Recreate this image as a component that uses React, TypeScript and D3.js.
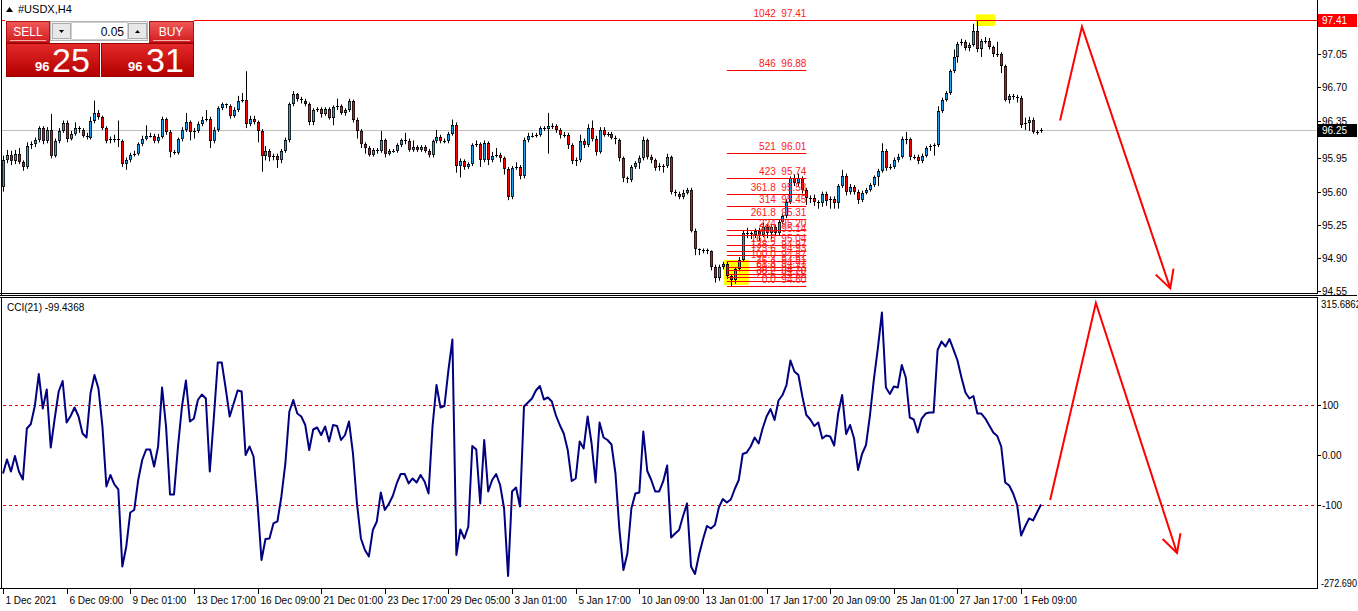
import * as d3 from "d3";

const W = 1358;
const H = 611;
const FONT = "'Liberation Sans', Arial, sans-serif";

// H4 candles, open = previous close
const firstOpen = 95.65;
const closes = [
  95.93, 95.99, 95.92, 96.0, 95.91, 95.86, 96.08, 96.1, 96.14, 96.27,
  96.13, 96.25, 95.98, 96.13, 96.24, 96.32, 96.16, 96.21, 96.27, 96.25,
  96.19, 96.17, 96.35, 96.43, 96.39, 96.27, 96.13, 96.16, 96.15, 96.13,
  95.89, 95.93, 95.99, 96.0, 96.1, 96.16, 96.19, 96.19, 96.13, 96.18,
  96.37, 96.23, 96.02, 96.01, 96.15, 96.25, 96.33, 96.23, 96.24, 96.31,
  96.36, 96.37, 96.13, 96.25, 96.48, 96.52, 96.5, 96.4, 96.46, 96.56,
  96.57, 96.31, 96.37, 96.33, 96.24, 95.98, 96.03, 95.96, 95.98, 95.93,
  96.03, 96.14, 96.52, 96.63, 96.58, 96.56, 96.52, 96.33, 96.46, 96.47,
  96.42, 96.47, 96.38, 96.49, 96.5, 96.43, 96.46, 96.56, 96.36, 96.24,
  96.1, 96.06, 95.99, 96.04, 96.03, 96.14, 96.0, 96.03, 96.03, 96.09,
  96.14, 96.13, 96.04, 96.07, 96.04, 96.07, 96.03, 95.99, 96.13, 96.18,
  96.13, 96.13, 96.21, 96.3, 95.87, 95.92, 95.86, 95.89, 96.09, 96.1,
  95.93, 96.11, 95.93, 95.98, 95.99, 95.95, 95.84, 95.54, 95.85, 95.86,
  95.76, 96.14, 96.19, 96.19, 96.2, 96.27, 96.26, 96.29, 96.29, 96.25,
  96.2, 96.2, 96.09, 95.92, 95.93, 96.13, 96.09, 96.27, 96.16, 96.02,
  96.25, 96.2, 96.21, 96.17, 96.14, 95.95, 95.74, 95.72, 95.86, 95.9,
  95.95, 96.14, 95.97, 95.93, 95.85, 95.87, 95.87, 95.96, 95.6, 95.58,
  95.54, 95.59, 95.62, 95.19, 94.99, 94.98, 94.98, 94.97, 94.81, 94.69,
  94.81, 94.84, 94.71, 94.67, 94.78, 94.88, 95.16, 95.16, 95.14, 95.19,
  95.14, 95.23, 95.16, 95.23, 95.16, 95.28, 95.34, 95.49, 95.74, 95.69,
  95.74, 95.62, 95.53, 95.53, 95.49, 95.48, 95.58, 95.5, 95.52, 95.48,
  95.66, 95.77, 95.6, 95.65, 95.6, 95.51, 95.59, 95.62, 95.67, 95.75,
  95.82, 96.03, 95.85, 95.86, 95.93, 95.97, 96.15, 96.15, 95.96, 95.97,
  95.92, 95.98, 96.06, 96.08, 96.09, 96.45, 96.57, 96.64, 96.87, 97.02,
  97.16, 97.18, 97.11, 97.15, 97.29, 97.1, 97.19, 97.19, 97.12, 97.05,
  97.05, 96.92, 96.57, 96.61, 96.6, 96.59, 96.3, 96.32, 96.36, 96.23,
  96.23, 96.25,
];
const highs = [
  95.98, 96.04, 96.03, 96.04, 96.06, 95.93, 96.12, 96.13, 96.17, 96.29,
  96.29, 96.28, 96.42, 96.16, 96.27, 96.35, 96.35, 96.24, 96.33, 96.29,
  96.27, 96.22, 96.39, 96.56, 96.46, 96.4, 96.29, 96.18, 96.2, 96.35,
  96.15, 95.96, 96.01, 96.03, 96.12, 96.19, 96.3, 96.22, 96.21, 96.21,
  96.39, 96.38, 96.25, 96.04, 96.17, 96.28, 96.43, 96.35, 96.27, 96.34,
  96.39, 96.46, 96.39, 96.28, 96.5, 96.54, 96.53, 96.52, 96.49, 96.61,
  96.64, 96.87, 96.4, 96.4, 96.35, 96.26, 96.08, 96.05, 96.0, 96.0,
  96.05, 96.17, 96.54, 96.66, 96.64, 96.6, 96.58, 96.54, 96.48, 96.49,
  96.49, 96.49, 96.49, 96.51, 96.58, 96.52, 96.48, 96.58, 96.57, 96.38,
  96.26, 96.12, 96.08, 96.06, 96.06, 96.24, 96.16, 96.05, 96.05, 96.11,
  96.16, 96.22, 96.16, 96.14, 96.09, 96.09, 96.09, 96.05, 96.15, 96.25,
  96.2, 96.16, 96.23, 96.36, 96.33, 95.95, 95.94, 95.91, 96.11, 96.14,
  96.12, 96.14, 96.13, 96.02, 96.06, 96.01, 95.97, 95.86, 95.87, 95.91,
  95.88, 96.17, 96.22, 96.22, 96.22, 96.29, 96.29, 96.43, 96.32, 96.31,
  96.27, 96.23, 96.22, 96.11, 95.96, 96.2, 96.16, 96.31, 96.35, 96.19,
  96.28, 96.28, 96.23, 96.23, 96.19, 96.16, 95.97, 95.76, 95.88, 95.92,
  95.98, 96.18, 96.16, 95.99, 95.95, 95.9, 95.89, 96.0, 95.98, 95.62,
  95.6, 95.62, 95.64, 95.64, 95.21, 95.0, 95.0, 95.0, 94.98, 94.83,
  94.83, 94.86, 94.86, 94.73, 94.8, 94.91, 95.19, 95.22, 95.18, 95.21,
  95.22, 95.27, 95.26, 95.26, 95.25, 95.31, 95.37, 95.52, 95.76, 95.78,
  95.79, 95.76, 95.64, 95.56, 95.57, 95.51, 95.6, 95.6, 95.55, 95.55,
  95.68, 95.83, 95.79, 95.68, 95.67, 95.62, 95.61, 95.64, 95.69, 95.77,
  95.84, 96.11, 96.05, 95.89, 95.96, 96.0, 96.18, 96.23, 96.17, 95.99,
  95.99, 96.0, 96.08, 96.1, 96.11, 96.5, 96.59, 96.66, 96.89, 97.1,
  97.18, 97.21, 97.2, 97.17, 97.37, 97.41, 97.21, 97.23, 97.22, 97.14,
  97.18, 97.07, 96.94, 96.63, 96.63, 96.62, 96.61, 96.38, 96.39, 96.38,
  96.25, 96.27,
];
const lows = [
  95.6, 95.9, 95.88, 95.89, 95.89, 95.82, 95.84, 96.05, 96.07, 96.12,
  96.1, 96.11, 95.95, 95.96, 96.11, 96.22, 96.12, 96.14, 96.19, 96.22,
  96.17, 96.15, 96.15, 96.32, 96.36, 96.25, 96.11, 96.11, 96.12, 96.07,
  95.86, 95.83, 95.91, 95.97, 95.98, 96.08, 96.14, 96.17, 96.11, 96.11,
  96.16, 96.2, 95.96, 95.99, 95.99, 96.13, 96.23, 96.14, 96.16, 96.22,
  96.29, 96.34, 96.06, 96.11, 96.23, 96.46, 96.48, 96.37, 96.38, 96.44,
  96.54, 96.27, 96.29, 96.31, 96.12, 95.81, 95.93, 95.92, 95.93, 95.85,
  95.9, 96.01, 96.12, 96.5, 96.55, 96.53, 96.5, 96.3, 96.3, 96.44,
  96.38, 96.4, 96.36, 96.3, 96.46, 96.41, 96.4, 96.44, 96.33, 96.16,
  96.06, 96.0, 95.97, 95.97, 96.0, 96.01, 95.96, 95.98, 96.01, 96.01,
  96.07, 96.1, 96.02, 96.02, 96.02, 96.02, 96.01, 95.96, 95.96, 96.11,
  96.11, 96.11, 96.11, 96.19, 95.8, 95.75, 95.83, 95.84, 95.87, 96.07,
  95.86, 95.91, 95.88, 95.91, 95.96, 95.91, 95.78, 95.51, 95.52, 95.83,
  95.73, 95.74, 96.12, 96.17, 96.17, 96.18, 96.24, 96.0, 96.26, 96.22,
  96.16, 96.17, 96.05, 95.89, 95.87, 95.91, 96.06, 96.07, 96.13, 95.98,
  96.0, 96.18, 96.18, 96.15, 96.1, 95.92, 95.7, 95.69, 95.7, 95.84,
  95.84, 95.93, 95.94, 95.9, 95.82, 95.82, 95.8, 95.85, 95.57, 95.55,
  95.52, 95.52, 95.57, 95.17, 94.93, 94.93, 94.95, 94.94, 94.77, 94.64,
  94.66, 94.78, 94.68, 94.6, 94.63, 94.76, 94.86, 95.11, 95.1, 95.11,
  95.08, 95.12, 95.11, 95.1, 95.13, 95.14, 95.26, 95.32, 95.47, 95.66,
  95.66, 95.58, 95.46, 95.48, 95.45, 95.42, 95.44, 95.45, 95.42, 95.42,
  95.42, 95.64, 95.56, 95.57, 95.57, 95.47, 95.49, 95.57, 95.6, 95.65,
  95.66, 95.8, 95.82, 95.83, 95.84, 95.91, 95.95, 96.1, 95.93, 95.94,
  95.89, 95.9, 95.96, 96.03, 95.98, 96.07, 96.43, 96.55, 96.62, 96.85,
  96.96, 97.14, 97.09, 97.08, 97.13, 97.07, 97.02, 97.16, 97.1, 97.02,
  97.02, 96.85, 96.55, 96.53, 96.57, 96.54, 96.27, 96.25, 96.24, 96.21,
  96.2, 96.22,
];

// CCI(21)
const cci = [
  -37, -9, -33, -2, -33, -49, 53, 62, 98, 162,
  93, 131, 15, 73, 127, 148, 65, 78, 95, 77,
  43, 35, 123, 160, 133, 57, -63, -40, -59, -69,
  -223, -183, -115, -110, -50, -10, 11, 11, -23, 17,
  135, 57, -79, -79, 17, 97, 149, 67, 73, 110,
  121, 113, -33, 73, 185, 185, 133, 77, 103, 129,
  127, 0, 17, -3, -97, -210, -168, -167, -137, -133,
  -83, -17, 87, 110, 83, 77, 60, 10, 51, 55,
  40, 57, 27, 60, 58, 30, 40, 67, 3, -97,
  -167, -190, -203, -150, -133, -75, -110, -98, -82, -57,
  -38, -38, -57, -47, -55, -40, -53, -77, 57, 140,
  95, 98, 170, 231, -200, -149, -167, -143, 18, 11,
  -97, 30, -73, -50, -38, -60, -107, -242, -73, -65,
  -103, 97,
  105, 113, 129, 138, 111, 115, 107, 80, 60, 43,
  10, -52, -47, 27, 13, 77, 23, -55, 65, 35,
  30, 21, -37, -150, -230, -197, -107, -77, -75, 47,
  -32, -50, -73, -73, -53, -21, -165, -157, -150, -122,
  -97, -223, -238, -200, -169, -142, -147, -140, -105, -88,
  -95, -89, -68, -50, 2, 5, 17, 35, 23, 53,
  77, 92, 70, 109, 120, 140, 189, 167, 160, 117,
  80, 71, 58, 65, 33, 39, 37, 19, 83, 120,
  42, 60, 33, -30, 2, 20, 80, 153, 215, 285,
  135, 122, 137, 135, 180, 155, 75, 71, 45, 73,
  83, 85, 85, 210, 227, 217, 232, 211, 189, 155,
  125, 113, 118, 83, 83, 73, 59, 45, 38, 17,
  -55, -61, -77, -100, -161, -143, -127, -131, -115, -99,
];
const cciLast = "-99.4368";
const cciMax = 315.6862;
const cciMin = -272.69;
const cciLevels = [100, -100];
const cciTicks = ["100", "0.00", "-100"];
const cciTickValues = [100, 0, -100];

const dateLabels = [
  "1 Dec 2021", "6 Dec 09:00", "9 Dec 01:00", "13 Dec 17:00", "16 Dec 09:00",
  "21 Dec 01:00", "23 Dec 17:00", "29 Dec 05:00", "3 Jan 01:00", "5 Jan 17:00",
  "10 Jan 09:00", "13 Jan 01:00", "17 Jan 17:00", "20 Jan 09:00", "25 Jan 01:00",
  "27 Jan 17:00", "1 Feb 09:00",
];
const priceTicks = ["97.05", "96.70", "96.35", "95.95", "95.60", "95.25", "94.90", "94.55"];

const fibLevels = ["0.0", "23.6", "38.2", "50.0", "61.8", "76.4", "100.0", "123.6", "138.2", "161.8", "200", "224", "261.8", "314", "361.8", "423", "521", "846"];
const fibPrices = ["94.60", "94.66", "94.70", "94.73", "94.77", "94.81", "94.87", "94.93", "94.97", "95.04", "95.14", "95.20", "95.31", "95.45", "95.58", "95.74", "96.01", "96.88"];
const topLevel = "1042";
const topPrice = "97.41";
const fibStartBar = 182;
const fibEndBar = 202;

const bid = "96.25";
const sellBig = "25";
const buyBig = "31";
const priceHead = "96";
const lot = "0.05";

// hand-drawn arrows: [bar index, value]
const upperArrow: [number, number][] = [[265.8, 96.35], [271.3, 97.34], [293.5, 94.58]];
const lowerArrow: [number, number][] = [[263.3, -90], [274.8, 304], [295.2, -196]];

const PLOT_R = 1317;

function arrowHead(a: number[], b: number[]) {
  const dx = a[0] - b[0];
  const dy = a[1] - b[1];
  const len = Math.hypot(dx, dy);
  const ux = dx / len;
  const uy = dy / len;
  const L = 20;
  const ang = (28 * Math.PI) / 180;
  const rot = (s: number) => [
    b[0] + L * (ux * Math.cos(s * ang) - uy * Math.sin(s * ang)),
    b[1] + L * (ux * Math.sin(s * ang) + uy * Math.cos(s * ang)),
  ];
  const p = rot(1);
  const q = rot(-1);
  return `M${p[0]},${p[1]}L${b[0]},${b[1]}L${q[0]},${q[1]}`;
}

export default function App() {
  const n = closes.length;
  const x = d3.scaleLinear().domain([0, n - 1]).range([3, 1041]);
  const y = d3.scaleLinear().domain([94.55, 97.41]).range([291.2, 20]);
  const yc = d3.scaleLinear().domain([cciMin, cciMax]).range([591.3, 297.2]);

  const candles = closes.map((c, i) => ({
    o: i === 0 ? firstOpen : closes[i - 1],
    c,
    h: highs[i],
    l: lows[i],
  }));

  const cciLine = d3
    .line<number>()
    .x((_, i) => x(i))
    .y((v) => yc(v))(cci);

  const lineU = d3.line<[number, number]>().x((d) => x(d[0])).y((d) => y(d[1]));
  const lineL = d3.line<[number, number]>().x((d) => x(d[0])).y((d) => yc(d[1]));
  const uPts = upperArrow.map((d) => [x(d[0]), y(d[1])]);
  const lPts = lowerArrow.map((d) => [x(d[0]), yc(d[1])]);

  // dash segments for the CCI level lines
  const dashXs = d3.range(3, PLOT_R - 2, 6);

  const bull = "#1aa0ec";
  const bear = "#ff0000";

  return (
    <svg
      width={W}
      height={H}
      style={{ position: "fixed", left: 0, top: 0, background: "#fff" }}
      fontFamily={FONT}
    >
      <defs>
        <linearGradient id="btn" x1="0" y1="0" x2="0" y2="1">
          <stop offset="0" stopColor="#f25a5a" />
          <stop offset="1" stopColor="#d21e1e" />
        </linearGradient>
        <linearGradient id="px" x1="0" y1="0" x2="0" y2="1">
          <stop offset="0" stopColor="#e42a2a" />
          <stop offset="1" stopColor="#b40000" />
        </linearGradient>
        <clipPath id="upClip">
          <rect x={2} y={0} width={PLOT_R - 2} height={294} />
        </clipPath>
      </defs>
      <rect width={W} height={H} fill="#fff" />

      {/* ===== upper panel ===== */}
      <g clipPath="url(#upClip)">
        <rect
          x={x(181.3)}
          width={x(187.5) - x(181.3)}
          y={y(94.88)}
          height={y(94.615) - y(94.88)}
          fill="#ffff00"
        />
        <rect
          x={x(244.6)}
          width={x(249.4) - x(244.6)}
          y={y(97.47)}
          height={y(97.347) - y(97.47)}
          fill="#ffff00"
        />
        <line x1={0} x2={PLOT_R} y1={Math.round(y(+bid)) + 0.5} y2={Math.round(y(+bid)) + 0.5} stroke="#c0c0c0" />
        {candles.map((d, i) => {
          const cx = Math.round(x(i));
          const top = Math.round(y(Math.max(d.o, d.c)));
          const bot = Math.round(y(Math.min(d.o, d.c)));
          const hgt = Math.max(1, bot - top);
          return (
            <g key={i}>
              <line x1={cx + 0.5} x2={cx + 0.5} y1={y(d.h)} y2={y(d.l)} stroke="#000" />
              {hgt > 2 ? (
                <rect
                  x={cx - 0.6}
                  y={top + 0.4}
                  width={2.2}
                  height={hgt - 0.8}
                  fill={d.c >= d.o ? bull : bear}
                  stroke="#000"
                  strokeWidth={0.8}
                />
              ) : (
                <rect x={cx - 1} y={top} width={3} height={1} fill="#000" />
              )}
            </g>
          );
        })}
        {fibPrices.map((p, i) => (
          <line
            key={i}
            x1={x(fibStartBar)}
            x2={x(fibEndBar)}
            y1={Math.round(y(+p)) + 0.5}
            y2={Math.round(y(+p)) + 0.5}
            stroke="#ff0000"
          />
        ))}
        <line x1={0} x2={PLOT_R} y1={Math.round(y(+topPrice)) + 0.5} y2={Math.round(y(+topPrice)) + 0.5} stroke="#ff0000" />
      </g>
      {fibPrices.map((p, i) => (
        <text
          key={i}
          x={x(fibEndBar)}
          y={Math.round(y(+p)) - 3}
          textAnchor="end"
          fontSize={10}
          fill="#ff2020"
          style={{ whiteSpace: "pre" }}
        >
          {`${fibLevels[i]}  ${p}`}
        </text>
      ))}
      <text
        x={x(fibEndBar)}
        y={Math.round(y(+topPrice)) - 3}
        textAnchor="end"
        fontSize={10}
        fill="#ff2020"
        style={{ whiteSpace: "pre" }}
      >
        {`${topLevel}  ${topPrice}`}
      </text>

      {/* arrows */}
      <path d={lineU(upperArrow) || ""} fill="none" stroke="#ff0000" strokeWidth={2} />
      <path d={arrowHead(uPts[1], uPts[2])} fill="none" stroke="#ff0000" strokeWidth={2} />

      {/* title */}
      <path d="M6,12 L9.5,7 L13,12 Z" fill="#000" />
      <text x={18} y={13} fontSize={11} fill="#000">#USDX,H4</text>

      {/* one-click trading panel */}
      <g shapeRendering="crispEdges">
        <rect x={5} y={20} width={189} height={57} fill="#fff" />
        <rect x={6} y={21} width={43} height={21} fill="url(#btn)" stroke="#b01010" />
        <line x1={10} x2={46} y1={40.5} y2={40.5} stroke="#f7b0b0" />
        <rect x={149} y={21} width={44} height={21} fill="url(#btn)" stroke="#b01010" />
        <line x1={153} x2={190} y1={40.5} y2={40.5} stroke="#f7b0b0" />
        <rect x={50.5} y={21.5} width={97} height={19} fill="#f0f0f0" stroke="#b4b4b4" />
        <rect x={52.5} y={23.5} width={18} height={15} fill="#e8e8e8" stroke="#adadad" />
        <rect x={71.5} y={22.5} width={56} height={17} fill="#fff" stroke="#d0d0d0" />
        <rect x={128.5} y={23.5} width={18} height={15} fill="#e8e8e8" stroke="#adadad" />
        <rect x={6} y={43} width={93} height={33} fill="url(#px)" stroke="#9a0000" />
        <rect x={101} y={43} width={92} height={33} fill="url(#px)" stroke="#9a0000" />
      </g>
      <path d="M59,30 L64,30 L61.5,33 Z" fill="#000" />
      <path d="M135,33 L140,33 L137.5,30 Z" fill="#000" />
      <text x={28} y={36} textAnchor="middle" fontSize={12} fill="#fff">SELL</text>
      <text x={171} y={36} textAnchor="middle" fontSize={12} fill="#fff">BUY</text>
      <text x={124} y={36} textAnchor="end" fontSize={12} fill="#000">{lot}</text>
      <text x={35} y={71} fontSize={13} fontWeight="bold" fill="#fff">{priceHead}</text>
      <text x={52} y={72} fontSize={34} fill="#fff">{sellBig}</text>
      <text x={128} y={71} fontSize={13} fontWeight="bold" fill="#fff">{priceHead}</text>
      <text x={146} y={72} fontSize={34} fill="#fff">{buyBig}</text>

      {/* ===== lower panel ===== */}
      {cciLevels.map((v) => (
        <g key={v}>
          {dashXs.map((dx) => (
            <rect key={dx} x={dx} y={Math.round(yc(v))} width={3} height={1} fill="#ff0000" />
          ))}
        </g>
      ))}
      <path d={cciLine || ""} fill="none" stroke="#000080" strokeWidth={2} strokeLinejoin="round" />
      <path d={lineL(lowerArrow) || ""} fill="none" stroke="#ff0000" strokeWidth={2} />
      <path d={arrowHead(lPts[1], lPts[2])} fill="none" stroke="#ff0000" strokeWidth={2} />
      <text x={7} y={311} fontSize={10} fill="#000">{`CCI(21) ${cciLast}`}</text>

      {/* frames */}
      <g shapeRendering="crispEdges" stroke="#000" fill="none">
        <line x1={1.5} x2={1.5} y1={0} y2={295} />
        <line x1={0} x2={PLOT_R} y1={293.5} y2={293.5} />
        <line x1={0} x2={PLOT_R + 40} y1={295.5} y2={295.5} />
        <line x1={0} x2={PLOT_R} y1={297.5} y2={297.5} />
        <line x1={1.5} x2={1.5} y1={297} y2={589} />
        <line x1={0} x2={PLOT_R} y1={588.5} y2={588.5} />
        <line x1={PLOT_R + 0.5} x2={PLOT_R + 0.5} y1={0} y2={294} />
        <line x1={PLOT_R + 0.5} x2={PLOT_R + 0.5} y1={297} y2={589} />
      </g>

      {/* price axis */}
      {priceTicks.map((t) => (
        <g key={t}>
          <line x1={PLOT_R} x2={PLOT_R + 4} y1={Math.round(y(+t)) + 0.5} y2={Math.round(y(+t)) + 0.5} stroke="#000" shapeRendering="crispEdges" />
          <text x={PLOT_R + 5} y={y(+t) + 4} fontSize={10} fill="#000">{t}</text>
        </g>
      ))}
      <rect x={PLOT_R + 1} y={Math.round(y(+topPrice)) - 6} width={39} height={13} fill="#ff0000" />
      <text x={PLOT_R + 5} y={y(+topPrice) + 4} fontSize={10} fill="#fff">{topPrice}</text>
      <rect x={PLOT_R + 1} y={Math.round(y(+bid)) - 6} width={39} height={13} fill="#000" />
      <text x={PLOT_R + 5} y={y(+bid) + 4} fontSize={10} fill="#fff">{bid}</text>

      {/* cci axis */}
      {cciTickValues.map((v, i) => (
        <g key={v}>
          <line x1={PLOT_R} x2={PLOT_R + 4} y1={Math.round(yc(v)) + 0.5} y2={Math.round(yc(v)) + 0.5} stroke="#000" shapeRendering="crispEdges" />
          <text x={PLOT_R + 5} y={yc(v) + 4} fontSize={10} fill="#000">{cciTicks[i]}</text>
        </g>
      ))}
      <text x={PLOT_R + 4} y={yc(cciMax) + 11} fontSize={10} fill="#000" textLength={40} lengthAdjust="spacingAndGlyphs">{cciMax.toFixed(4)}</text>
      <text x={PLOT_R + 4} y={yc(cciMin) - 4} fontSize={10} fill="#000" textLength={36} lengthAdjust="spacingAndGlyphs">{cciMin.toFixed(3)}</text>

      {/* time axis */}
      {dateLabels.map((t, i) => {
        const tx = Math.round(x(i * 16)) + 0.5;
        return (
          <g key={t}>
            <line x1={tx} x2={tx} y1={589} y2={594} stroke="#000" shapeRendering="crispEdges" />
            <text x={tx + 2} y={604} fontSize={10} fill="#000">{t}</text>
          </g>
        );
      })}
    </svg>
  );
}
